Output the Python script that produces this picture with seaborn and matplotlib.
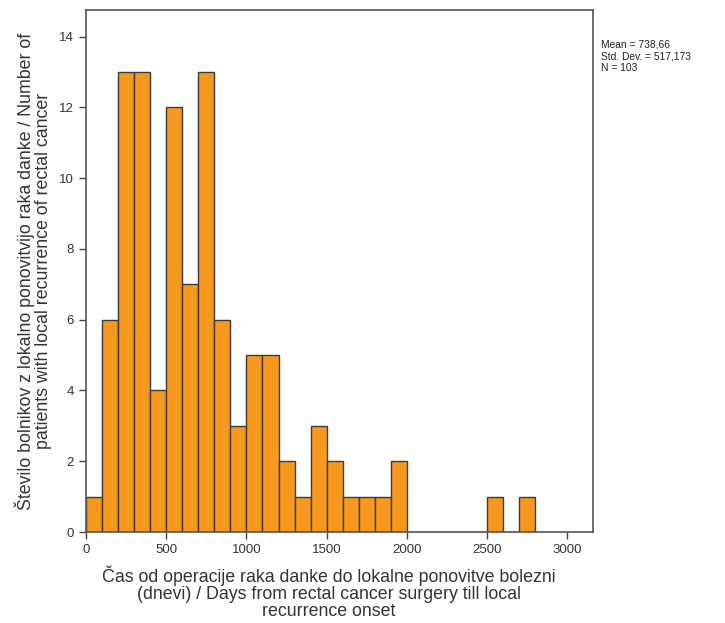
import numpy as np
import pandas as pd
import matplotlib
matplotlib.use("Agg")
import matplotlib.pyplot as plt
import seaborn as sns

# histogram counts, bins of 100 days starting at 0
bin_width = 100
counts = [1, 6, 13, 13, 4, 12, 7, 13, 6, 3,
          5, 5, 2, 1, 3, 2, 1, 1, 1, 2,
          0, 0, 0, 0, 0, 1, 0, 1]
x_ticks = [0, 500, 1000, 1500, 2000, 2500, 3000]
y_ticks = [0, 2, 4, 6, 8, 10, 12, 14]
stats_text = "Mean = 738,66\nStd. Dev. = 517,173\nN = 103"
x_label = ("Čas od operacije raka danke do lokalne ponovitve bolezni\n"
           "(dnevi) / Days from rectal cancer surgery till local\n"
           "recurrence onset")
y_label = ("Število bolnikov z lokalno ponovitvijo raka danke / Number of\n"
           "patients with local recurrence of rectal cancer")

n_bins = len(counts)
df = pd.DataFrame({"days": np.arange(n_bins) * bin_width + bin_width / 2,
                   "n": counts})

sns.set_style("white")
plt.rcParams["font.family"] = ["Liberation Sans", "DejaVu Sans"]

fig = plt.figure(figsize=(7.25, 6.23), dpi=100)
ax = fig.add_axes([0.1186, 0.146, 0.818 - 0.1186, 0.984 - 0.146])

sns.histplot(data=df, x="days", weights="n", binwidth=bin_width,
             binrange=(0, n_bins * bin_width), ax=ax,
             color="#F7991F", alpha=1, edgecolor="#3a3a3a", linewidth=1)

ax.set_xlim(0, 3160)
ax.set_ylim(0, 14.75)
ax.set_xticks(x_ticks)
ax.set_yticks(y_ticks)
ax.tick_params(axis="both", direction="out", length=5, width=1,
               color="#444444", labelsize=9.5, labelcolor="#333333",
               left=True, bottom=True)
for s in ax.spines.values():
    s.set_color("#555555")
    s.set_linewidth(1.2)

ax.set_xlabel(x_label, fontsize=12.8, color="#333333", linespacing=1.0)
ax.xaxis.set_label_coords(0.479, -0.065, transform=ax.transAxes)
ax.xaxis.label.set_va("top")
ax.set_ylabel(y_label, fontsize=12.8, color="#333333", labelpad=5,
              linespacing=1.0)

fig.text(0.829, 0.937, stats_text, fontsize=7.4, color="#222222",
         va="top", ha="left", linespacing=1.25)

fig.savefig("out.png", dpi=100)
